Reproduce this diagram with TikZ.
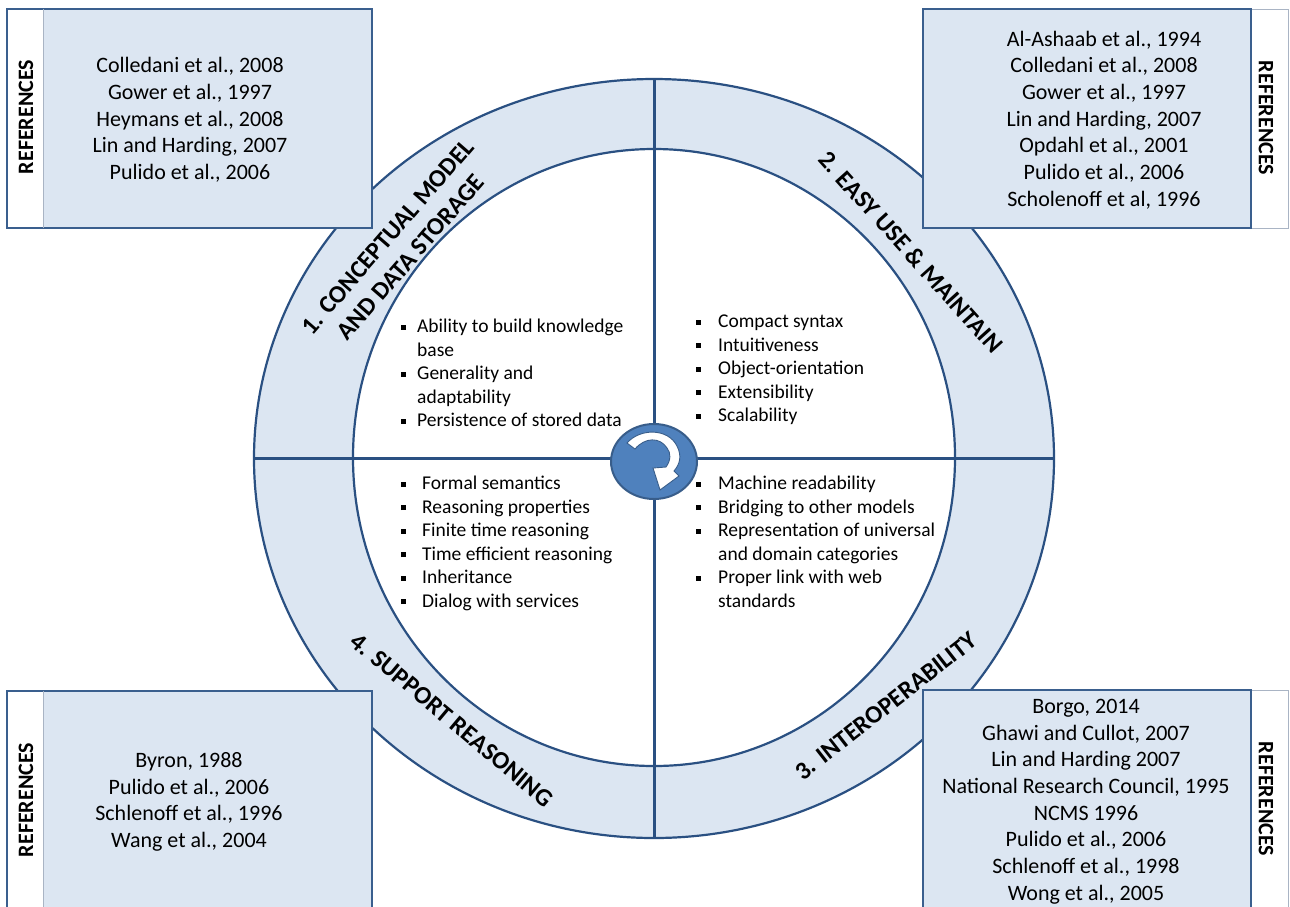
\documentclass[tikz,border=0pt]{standalone}
\usepackage{fontspec}
\setmainfont{Carlito}
\definecolor{ringfill}{HTML}{DCE6F2}
\definecolor{ringline}{HTML}{2A5082}
\definecolor{boxline}{HTML}{3A5F8E}
\definecolor{stripline}{HTML}{A9B4C4}
\definecolor{hubfill}{HTML}{4F81BD}
\definecolor{hubline}{HTML}{385D8A}
\newcommand\qb[1]{\makebox[#1][l]{\raisebox{3pt}{\rule{5pt}{5pt}}}}
\newcommand\qi[1]{\hspace*{#1}}
\tikzset{
  ringstyle/.style={fill=ringfill, draw=ringline, line width=2.2pt},
  crossline/.style={draw=ringline, line width=3pt},
  refbox/.style={fill=ringfill, draw=boxline, line width=1.8pt},
  stripbox/.style={fill=white, draw=stripline, line width=0.8pt},
  reftxt/.style={font=\fontsize{22}{26.7}\selectfont, align=center, inner sep=0pt},
  refhead/.style={font=\bfseries\fontsize{22}{26}\selectfont, inner sep=0pt},
  ringlbl/.style={font=\bfseries\fontsize{25}{30.5}\selectfont, align=center, inner sep=0pt},
  bul/.style={font=\fontsize{19.5}{23.5}\selectfont, align=left, inner sep=0pt, anchor=north west},
}
\begin{document}
\begin{tikzpicture}[x=1pt,y=-1pt]
\useasboundingbox (0,0) rectangle (1290,906);
\clip (0,0) rectangle (1290,906);
% ring
\draw[ringstyle] (654,458.5) ellipse [x radius=400pt, y radius=379.5pt];
\draw[ringstyle, fill=white] (654,457.5) ellipse [x radius=301pt, y radius=308.5pt];
% cross lines
\coordinate (ntop) at (654,79);
\coordinate (nbot) at (654,838);
\coordinate (nleft) at (254,458);
\coordinate (nright) at (1054,458);
\draw[crossline] (ntop) -- (nbot);
\draw[crossline] (nleft) -- (nright);
% hub
\draw[fill=hubfill, draw=hubline, line width=2pt] (654,461.5) ellipse [x radius=43pt, y radius=37.5pt];
\draw[fill=white, draw=hubline, line width=0.9pt]
  (627,443) .. controls (640,428) and (668,428) .. (677,446)
  .. controls (682,456) and (680,464) .. (674,471)
  -- (679,476) -- (660,490) -- (653,468) -- (666,467)
  .. controls (671,460) and (671,453) .. (667,448)
  .. controls (660,437) and (645,437) .. (635,449) -- cycle;
% ring labels
\node[ringlbl, rotate=49] (lab1) at (399,247) {1. CONCEPTUAL MODEL\\AND DATA STORAGE};
\node[ringlbl, rotate=-48] (lab2) at (911,252) {2. EASY USE \& MAINTAIN};
\node[ringlbl, rotate=38] (lab3) at (886,706) {3. INTEROPERABILITY};
\node[ringlbl, rotate=-40] (lab4) at (452,720) {4. SUPPORT REASONING};
% quadrant lists
\node[bul] (q1) at (401,317.5) {\rule{0pt}{15pt}\qb{16pt}Ability to build knowledge\\
  \qi{16pt}base\\ \qb{16pt}Generality and\\ \qi{16pt}adaptability\\ \qb{16pt}Persistence of stored data};
\node[bul] (q2) at (696,312.5) {\rule{0pt}{15pt}\qb{22pt}Compact syntax\\
  \qb{22pt}Intuitiveness\\ \qb{22pt}Object-orientation\\ \qb{22pt}Extensibility\\ \qb{22pt}Scalability};
\node[bul] (q4) at (401,474.5) {\rule{0pt}{15pt}\qb{21pt}Formal semantics\\
  \qb{21pt}Reasoning properties\\ \qb{21pt}Finite time reasoning\\ \qb{21pt}Time efficient reasoning\\
  \qb{21pt}Inheritance\\ \qb{21pt}Dialog with services};
\node[bul] (q3) at (696,474.5) {\rule{0pt}{15pt}\qb{22pt}Machine readability\\
  \qb{22pt}Bridging to other models\\ \qb{22pt}Representation of universal\\ \qi{22pt}and domain categories\\
  \qb{22pt}Proper link with web\\ \qi{22pt}standards};
% top-left references box
\draw[refbox] (43,9) rectangle (372,228);
\draw[fill=white, draw=none] (7,9) rectangle (43,228);
\draw[stripline, line width=0.8pt] (43,9) -- (43,228);
\draw[boxline, line width=1.8pt] (43,9) -- (7,9) -- (7,228) -- (43,228);
\node[refhead, rotate=90] (h1) at (26,117) {REFERENCES};
\node[reftxt] (r1) at (190,120) {Colledani et al., 2008\\Gower et al., 1997\\Heymans et al., 2008\\Lin and Harding, 2007\\Pulido et al., 2006};
% top-right references box
\draw[stripbox] (1251,9) rectangle (1288,228);
\draw[refbox] (923,9) rectangle (1251,228);
\node[refhead, rotate=-90] (h2) at (1266,118) {REFERENCES};
\node[reftxt] (r2) at (1104,120) {Al-Ashaab et al., 1994\\Colledani et al., 2008\\Gower et al., 1997\\Lin and Harding, 2007\\Opdahl et al., 2001\\Pulido et al., 2006\\Scholenoff et al, 1996};
% bottom-right references box
\draw[stripbox] (1251,690) rectangle (1288,930);
\draw[refbox] (923,690) rectangle (1251,930);
\node[refhead, rotate=-90] (h3) at (1266,799) {REFERENCES};
\node[reftxt] (r3) at (1086,801.5) {Borgo, 2014\\Ghawi and Cullot, 2007\\Lin and Harding 2007\\National Research Council, 1995\\NCMS 1996\\Pulido et al., 2006\\Schlenoff et al., 1998\\Wong et al., 2005};
% bottom-left references box
\draw[refbox] (43,691) rectangle (372,930);
\draw[fill=white, draw=none] (7,691) rectangle (43,930);
\draw[stripline, line width=0.8pt] (43,691) -- (43,930);
\draw[boxline, line width=1.8pt] (43,691) -- (7,691) -- (7,930);
\node[refhead, rotate=90] (h4) at (26,800) {REFERENCES};
\node[reftxt] (r4) at (189,802) {Byron, 1988\\Pulido et al., 2006\\Schlenoff et al., 1996\\Wang et al., 2004};
\end{tikzpicture}
\end{document}
